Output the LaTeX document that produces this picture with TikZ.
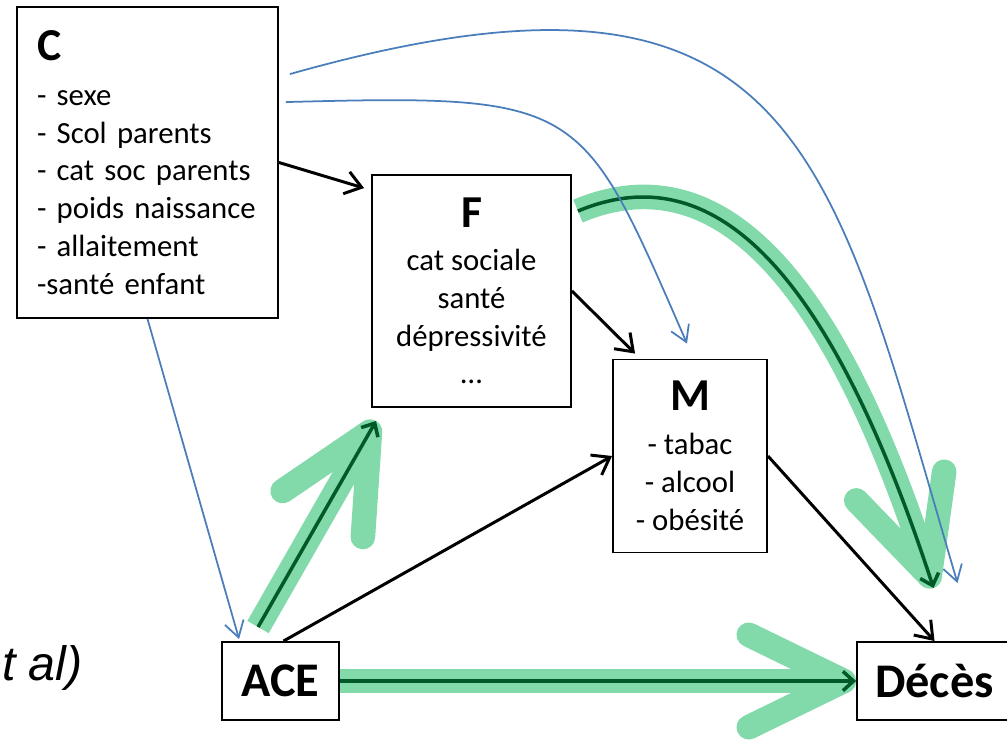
\documentclass[tikz,border=0pt]{standalone}
\usepackage{fontspec}
\setmainfont{Carlito}
\newfontfamily\citefont{Liberation Sans}
\usepackage{tikz}
\usetikzlibrary{arrows.meta,calc,positioning}
\definecolor{bandgreen}{RGB}{130,217,170}
\definecolor{darkgreen}{RGB}{0,90,40}
\definecolor{lineblue}{RGB}{74,126,187}
\tikzstyle{box} = [rectangle, draw, line width=1.1pt, inner sep=0pt, font=\fontsize{17.5}{21.5}\selectfont]
\tikzstyle{arrow}=[draw,-{Straight Barb[length=9pt,width=13pt]},line width=1.7pt]
\tikzstyle{barrow}=[draw,-{Straight Barb[length=9pt,width=11pt]},lineblue,line width=1pt]
\tikzstyle{gband}=[draw,-{Straight Barb[length=1.9cm,width=1.85cm,round]},bandgreen,line width=14pt]
\tikzstyle{garrow}=[draw,-{Straight Barb[length=6pt,width=11pt]},darkgreen,line width=2pt]
\newcommand{\head}[1]{{\fontsize{26}{26}\selectfont\bfseries #1}}

\begin{document}
\begin{tikzpicture}[x=0.02cm,y=-0.02cm]
\useasboundingbox (0,0) rectangle (1007,741);
\clip (0,0) rectangle (1007,741);

\node [box, text width=4.42cm, inner xsep=0.4cm, minimum height=6.22cm, align=left] (C) at (147.5,162.5)
  {\head{C}\\[4pt] - sexe\\ - Scol parents\\ - cat soc parents\\ - poids naissance\\ - allaitement\\ -santé enfant};
\node [box, minimum width=3.98cm, minimum height=4.64cm, align=center] (F) at (471.5,291)
  {\head{F}\\[3pt] cat sociale\\ santé\\ dépressivité\\ …};
\node [box, minimum width=3.08cm, minimum height=3.86cm, align=center] (M) at (690,456)
  {\head{M}\\[3.5pt] - tabac\\ - alcool\\ - obésité};
\node [box, minimum width=2.34cm, minimum height=1.56cm] (ACE) at (280.5,681) {{\fontsize{27.5}{27.5}\selectfont\bfseries ACE}};
\node [box, minimum width=3.1cm, minimum height=1.56cm] (Deces) at (934.5,681) {{\fontsize{27.5}{27.5}\selectfont\bfseries Décès}};
\node [anchor=base east, inner sep=0pt, font=\citefont\itshape\fontsize{27.5}{32}\selectfont] (cite) at (83,680) {et al)};

% chemins principaux
\draw[gband] ($(ACE.north west)+(37,-14)$) -- ($(F.south west)+(5,13)$);
\draw[gband] (ACE.east) -- (Deces.west);
\draw[gband] ($(F.north east)+(6,37)$) .. controls (700,160) and (820,240) .. ($(Deces.north)+(-1,-53)$);
\draw[garrow] ($(ACE.north west)+(37,-14)$) -- ($(F.south west)+(5,13)$);
\draw[garrow] (ACE.east) -- (Deces.west);
\draw[garrow] ($(F.north east)+(6,37)$) .. controls (700,160) and (820,240) .. ($(Deces.north)+(-1,-53)$);

\draw[arrow] (C.east) -- ($(F.north west)+(-7,14)$);
\draw[arrow] (F.east) -- ($(M.north west)+(23,-5)$);
\draw[arrow] ($(ACE.north)+(3,0)$) -- (M.west);
\draw[arrow] (M.east) -- (Deces.north);

\draw[barrow] (C.south) -- ($(ACE.north west)+(18,-2)$);
\draw[barrow] ($(C.north east)+(7,96)$) .. controls (585,94) and (581,101) .. ($(M.north)+(-3,-15)$);
\draw[barrow] ($(C.north east)+(11,68)$) .. controls (800,-70) and (830,150) .. ($(Deces.north)+(23,-58)$);
\end{tikzpicture}
\end{document}
